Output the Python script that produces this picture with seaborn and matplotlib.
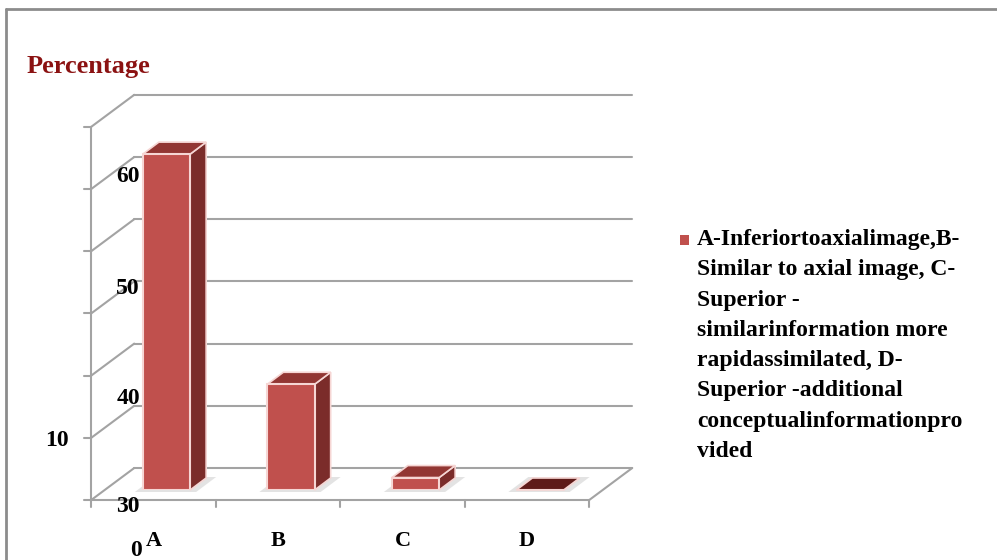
import matplotlib
matplotlib.use("Agg")
import matplotlib.pyplot as plt
from matplotlib.patches import Polygon, Rectangle
import seaborn as sns
import numpy as np

# ---------------- data ----------------
categories = ["A", "B", "C", "D"]
percentages = [54, 17, 2, 0]
axis_labels = ["60", "50", "40", "10", "30", "0"]   # labels as printed in the source
grid_values = [0, 10, 20, 30, 40, 50, 60]
title_text = "Percentage"
legend_lines = ["A-Inferiortoaxialimage,B-",
                "Similar to axial image, C-",
                "Superior -",
                "similarinformation more",
                "rapidassimilated, D-",
                "Superior -additional",
                "conceptualinformationpro",
                "vided"]

# ---------------- style ----------------
W, H = 997, 560
FRONT = "#c0504d"
SIDE = "#7b2c2a"
TOP = "#923633"
EDGE = "#f6d6d4"
GRID = "#a3a3a3"
SERIF = ["Liberation Serif", "DejaVu Serif"]

sns.set_theme(style="white")
plt.rcParams["font.family"] = SERIF

fig = plt.figure(figsize=(W / 100, H / 100), dpi=100)

# background axis in image pixel coordinates (y down)
bg = fig.add_axes([0, 0, 1, 1], zorder=0)
bg.set_xlim(0, W)
bg.set_ylim(H, 0)
bg.axis("off")

# bar-plane axis
ax = fig.add_axes([104.25 / W, 70 / H, 498 / W, 373.2 / H], zorder=1)
ax.patch.set_alpha(0)
sns.barplot(x=categories, y=percentages, ax=ax, color=FRONT, saturation=1,
            width=0.38, edgecolor=EDGE, linewidth=1.5, zorder=3)
ax.set_xlim(-0.5, 3.5)
ax.set_ylim(0, 60)
ax.axis("off")

def img(x, y):
    d = ax.transData.transform((x, y))
    return d[0], H - d[1]

# perspective offsets (pixels, image coordinates)
FX, FY = -13, 10     # front of floor relative to bar plane
BX, BY = 30, -22     # back wall relative to bar plane
DX, DY = 16, -12     # bar depth

x0, x1 = ax.get_xlim()

# back wall gridlines + left wall diagonals + left axis ticks
for v in grid_values:
    lx, ly = img(x0, v)
    rx, ry = img(x1, v)
    bg.plot([lx + FX, lx + BX], [ly + FY, ly + BY], color=GRID, lw=1.5, zorder=1)
    bg.plot([lx + BX, rx + BX], [ly + BY, ry + BY], color=GRID, lw=1.5, zorder=1)
    bg.plot([lx + FX - 7, lx + FX], [ly + FY, ly + FY], color=GRID, lw=1.5, zorder=1)

# left axis vertical line
lx, ly0 = img(x0, 0)
_, ly1 = img(x0, 60)
bg.plot([lx + FX, lx + FX], [ly0 + FY + 7, ly1 + FY], color=GRID, lw=1.5, zorder=1)

# floor front and right edges
rx, ry = img(x1, 0)
bg.plot([lx + FX, rx + FX], [ly0 + FY, ry + FY], color=GRID, lw=1.5, zorder=1)
bg.plot([rx + FX, rx + BX], [ry + FY, ry + BY], color=GRID, lw=1.5, zorder=1)
# category boundary ticks
for i in range(len(categories)):
    tx, ty = img(i + 0.5, 0)
    bg.plot([tx + FX, tx + FX], [ty + FY, ty + FY + 7], color=GRID, lw=1.5, zorder=1)

# 3D faces of bars
for i, p in enumerate(ax.patches):
    bx, bw, bh = p.get_x(), p.get_width(), p.get_height()
    xl, yb = img(bx, 0)
    xr, yt = img(bx + bw, bh)
    # shadow
    bg.add_patch(Polygon([(xl - 8, yb + 2), (xr + 6, yb + 2), (xr + DX + 10, yb + DY - 1),
                          (xl + DX - 4, yb + DY - 1)], closed=True,
                         facecolor="#d8d8d8", edgecolor="none", alpha=0.7, zorder=2))
    topc = TOP if bh > 0 else "#5e1b19"
    bg.add_patch(Polygon([(xr, yb), (xr + DX, yb + DY), (xr + DX, yt + DY), (xr, yt)],
                         closed=True, facecolor=SIDE, edgecolor=EDGE, lw=1.2, zorder=3))
    bg.add_patch(Polygon([(xl, yt), (xr, yt), (xr + DX, yt + DY), (xl + DX, yt + DY)],
                         closed=True, facecolor=topc, edgecolor=EDGE, lw=1.2, zorder=3))

# category labels
for i, c in enumerate(categories):
    cx, cy = img(i, 0)
    bg.text(cx + FX, 541, c, ha="center", va="center", fontsize=16,
            fontweight="bold", color="black", zorder=5)

# value axis labels (as they appear in the source)
label_pos = [(128, 177), (128, 288), (128, 398), (57, 440), (128, 506), (136, 551)]
for t, (px, py) in zip(axis_labels, label_pos):
    bg.text(px, py, t, ha="center", va="center", fontsize=17,
            fontweight="bold", color="black", zorder=5)

# title
bg.text(27, 66, title_text, ha="left", va="center", fontsize=19,
        fontweight="bold", color="#8b1212", zorder=5)

# legend
bg.add_patch(Rectangle((680, 235), 9, 10, facecolor=FRONT, edgecolor="none", zorder=5))
bg.text(697, 229, "\n".join(legend_lines), ha="left", va="top", fontsize=17,
        fontweight="bold", color="black", linespacing=1.58, zorder=5)

# outer frame (left and top)
bg.plot([6, 6], [9, H], color="#8c8c8c", lw=2, zorder=1)
bg.plot([6, W], [9, 9], color="#8c8c8c", lw=2, zorder=1)

fig.savefig("out.png", dpi=100, facecolor="white")
